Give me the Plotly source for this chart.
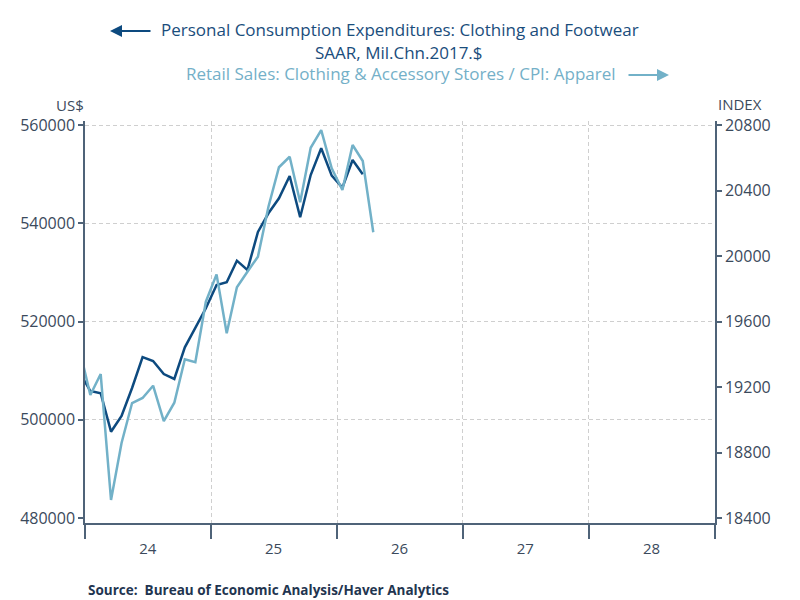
import plotly.graph_objects as go

months = ["2023-12", "2024-01", "2024-02", "2024-03", "2024-04", "2024-05", "2024-06",
          "2024-07", "2024-08", "2024-09", "2024-10", "2024-11", "2024-12",
          "2025-01", "2025-02", "2025-03", "2025-04", "2025-05", "2025-06",
          "2025-07", "2025-08", "2025-09", "2025-10", "2025-11", "2025-12",
          "2026-01", "2026-02", "2026-03", "2026-04"]

pce_clothing = [509640, 505850, 505400, 497570, 500760, 506460, 512770,
                511960, 509310, 508300, 514750, 518620, 522690,
                527430, 527980, 532380, 530480, 538220, 542030,
                545080, 549620, 541210, 549820, 555260, 549680,
                547240, 552880, 549960, None]

retail_real = [19426, 19151, 19279, 18510, 18858, 19102, 19133,
               19208, 18992, 19104, 19369, 19351, 19721,
               19888, 19528, 19809, 19904, 19996, 20301,
               20542, 20606, 20328, 20661, 20769, 20536,
               20403, 20678, 20580, 20145]

year_ticks = ["2024-07-01", "2025-07-01", "2026-07-01", "2027-07-01", "2028-07-01"]
year_labels = ["24", "25", "26", "27", "28"]
left_ticks = [480000, 500000, 520000, 540000, 560000]
right_ticks = [18400, 18800, 19200, 19600, 20000, 20400, 20800]

DARK = "#0d4a7f"
LIGHT = "#72b1c8"
AXIS = "#4f6378"
TXT = "#3b4a5c"
GRID = "#cfcfcf"
FONT = "Open Sans"

fig = go.Figure()
fig.add_trace(go.Scatter(x=months, y=pce_clothing, mode="lines", xperiod="M1",
                         xperiodalignment="middle", line=dict(color=DARK, width=2.5),
                         yaxis="y", showlegend=False, connectgaps=False))
fig.add_trace(go.Scatter(x=months, y=retail_real, mode="lines", xperiod="M1",
                         xperiodalignment="middle", line=dict(color=LIGHT, width=2.5),
                         yaxis="y2", showlegend=False))

fig.update_layout(
    width=800, height=600,
    margin=dict(l=85, r=85, t=121, b=77),
    paper_bgcolor="white", plot_bgcolor="white",
    font=dict(family=FONT, color=TXT),
    xaxis=dict(type="date", range=["2024-01-01", "2029-01-01"],
               tickmode="array", tickvals=year_ticks, ticktext=year_labels,
               ticks="", showgrid=False, zeroline=False, ticklabelstandoff=11,
               showline=True, linecolor=AXIS, linewidth=1.5,
               tickfont=dict(size=15, color=TXT),
               minor=dict(dtick="M12", tick0="2024-01-01", ticks="outside",
                          ticklen=14, tickcolor=AXIS, tickwidth=1.5,
                          showgrid=True, gridcolor=GRID, griddash="4px,3px",
                          gridwidth=1)),
    yaxis=dict(range=[478980, 560815], tickmode="array", tickvals=left_ticks,
               tickformat="d",
               ticks="outside", ticklen=5, tickcolor=AXIS, tickwidth=1.5,
               showline=True, linecolor=AXIS, linewidth=1.5,
               showgrid=False, zeroline=False,
               tickfont=dict(size=16, color=TXT),
               minor=dict(tickmode="array", tickvals=[500000, 520000, 540000, 560000],
                          ticks="", showgrid=True, gridcolor=GRID,
                          griddash="4px,3px", gridwidth=1)),
    yaxis2=dict(range=[18369.5, 20824.4], tickmode="array", tickvals=right_ticks,
                tickformat="d",
                overlaying="y", side="right",
                ticks="outside", ticklen=5, tickcolor=AXIS, tickwidth=1.5,
                showline=True, linecolor=AXIS, linewidth=1.5,
                showgrid=False, zeroline=False,
                tickfont=dict(size=16, color=TXT)),
)

def px(xp):
    return (xp - 85) / 630.0

def py(yp):
    return (523 - yp) / 402.0

ann = []
ann.append(dict(text="Personal Consumption Expenditures: Clothing and Footwear",
                x=px(400), y=py(30), xref="paper", yref="paper", showarrow=False,
                font=dict(size=17, color="#1a4d7c", family=FONT), xanchor="center", yanchor="middle"))
ann.append(dict(text="SAAR, Mil.Chn.2017.$",
                x=px(399), y=py(52), xref="paper", yref="paper", showarrow=False,
                font=dict(size=17, color="#1a4d7c", family=FONT), xanchor="center", yanchor="middle"))
ann.append(dict(text="Retail Sales: Clothing &amp; Accessory Stores / CPI: Apparel",
                x=px(401), y=py(74), xref="paper", yref="paper", showarrow=False,
                font=dict(size=17, color="#74b0c8", family=FONT), xanchor="center", yanchor="middle"))
# legend arrows
ann.append(dict(text="", x=px(110), y=py(31), xref="paper", yref="paper", showarrow=True,
                ax=42, ay=0, arrowhead=2, arrowsize=1.2, arrowwidth=2, arrowcolor=DARK))
ann.append(dict(text="", x=px(669), y=py(75), xref="paper", yref="paper", showarrow=True,
                ax=-42, ay=0, arrowhead=2, arrowsize=1.2, arrowwidth=2, arrowcolor=LIGHT))
# axis titles
ann.append(dict(text="US$", x=px(70), y=py(105), xref="paper", yref="paper", showarrow=False,
                font=dict(size=15, color=TXT, family=FONT), xanchor="center", yanchor="middle"))
ann.append(dict(text="INDEX", x=px(740), y=py(104), xref="paper", yref="paper", showarrow=False,
                font=dict(size=15, color=TXT, family=FONT), xanchor="center", yanchor="middle"))
# source
ann.append(dict(text="<b>Source:  Bureau of Economic Analysis/Haver Analytics</b>",
                x=px(86), y=py(590), xref="paper", yref="paper", showarrow=False,
                font=dict(size=13.5, color="#1f3550", family=FONT), xanchor="left", yanchor="middle"))
fig.update_layout(annotations=ann)

fig.write_html("out.html")
